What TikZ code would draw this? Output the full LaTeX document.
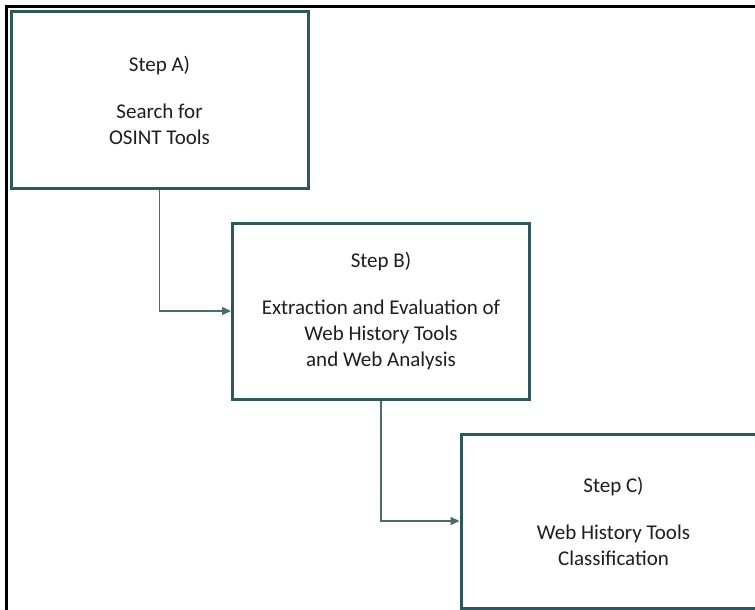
\documentclass[tikz,border=0pt]{standalone}
\usepackage{fontspec}
\setmainfont{Carlito}
\usepackage{tikz}
\usetikzlibrary{arrows.meta}
\definecolor{boxteal}{RGB}{47,88,91}
\definecolor{linkteal}{RGB}{70,108,110}
\definecolor{txtgray}{RGB}{30,30,30}
\tikzset{
  stepbox/.style={rectangle, draw=boxteal, line width=3pt, fill=white, text=txtgray,
                  minimum width=297pt, minimum height=176pt, align=center,
                  font=\fontsize{21}{26}\selectfont},
  link/.style={draw=linkteal, line width=1.4pt, -{Triangle[length=9pt,width=8pt]}}
}
\begin{document}
\begin{tikzpicture}[x=1pt, y=-1pt]
        \clip (0,0) rectangle (755,610);
        \useasboundingbox (0,0) rectangle (755,610);
        \fill[white] (0,0) rectangle (755,610);
        \draw[black, line width=3pt] (6,640) -- (6,7) -- (790,7);
        \node[stepbox] at (159.5, 100)   (stepA) {Step A)\\[21pt] Search for\\ OSINT Tools};
        \node[stepbox] at (381, 311)   (stepB) {Step B)\\[21pt] Extraction and Evaluation of\\ Web History Tools\\ and Web Analysis};
        \node[stepbox, minimum width=305pt, minimum height=174pt] at (613.5, 521)   (stepC) {Step C)\\[21pt] Web History Tools\\ Classification};
        \draw [link] (stepA.south) |- (stepB.west);
        \draw [link] (stepB.south) |- (stepC.west);
    \end{tikzpicture}
\end{document}
